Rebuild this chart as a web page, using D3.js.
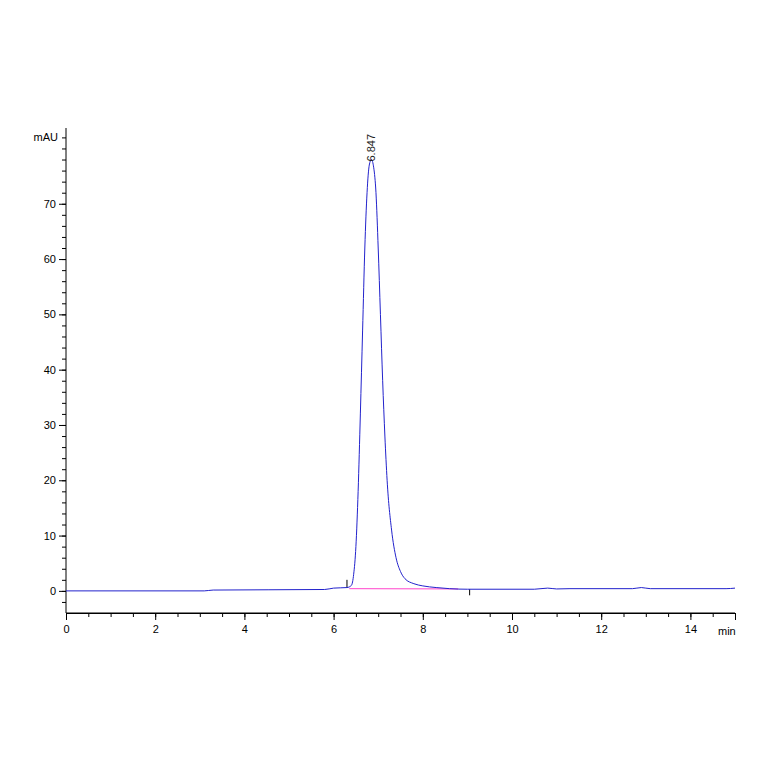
<!DOCTYPE html>
<html><head><meta charset="utf-8">
<script src="https://cdn.jsdelivr.net/npm/d3@7"></script>
<style>body{margin:0;background:#fff}text{font-family:Arial,"Liberation Sans",sans-serif}</style>
</head><body>
<svg id="c" width="764" height="764"></svg>
<script>
// chromatogram trace: [min, mAU]
var times = [0,3.1,3.3,5.8,6.0,6.3,6.4,6.45,6.5,6.55,6.6,6.65,6.7,6.75,6.8,6.847,6.9,6.95,7.0,7.05,7.1,7.15,7.2,7.3,7.4,7.5,7.6,7.8,8.0,8.3,8.6,9.0,10.5,10.8,11.0,11.3,12.7,12.9,13.1,14.8,15];
var signal = [0,0,0.15,0.25,0.5,0.6,1,3,8,18,32,47,62,72,77,78,76.5,72,62,50,38,28,20,11,6,3.5,2.2,1.3,0.9,0.6,0.4,0.3,0.3,0.5,0.35,0.4,0.4,0.6,0.4,0.4,0.5];
var baseline = [[6.35,0.4],[8.8,0.35]];
var xTicks = [0,2,4,6,8,10,12,14];
var yTicks = [0,10,20,30,40,50,60,70];
var peak = {t:6.847, h:78, label:"6.847"};

var svg = d3.select('#c');
var x = d3.scaleLinear().domain([0,15]).range([66,735]);
var y = d3.scaleLinear().domain([-4,83.7]).range([613,128]);

// axes
svg.append('g').attr('transform','translate(0,613)')
  .call(d3.axisBottom(x).tickValues(d3.range(0,15.01,0.5)).tickSize(4).tickFormat(''))
  .call(g=>g.select('.domain').remove());
svg.append('g').attr('transform','translate(0,613)')
  .call(d3.axisBottom(x).tickValues(xTicks).tickSize(7).tickFormat(d3.format('d')))
  .call(g=>g.selectAll('text').attr('font-size',11).attr('dy','0.9em'));
svg.append('line').attr('x1',66).attr('x2',735).attr('y1',613).attr('y2',613).attr('stroke','#000');
svg.append('text').attr('x',718).attr('y',635).attr('font-size',11).text('min');

svg.append('g').attr('transform','translate(66,0)')
  .call(d3.axisLeft(y).tickValues(d3.range(-2,83,2)).tickSize(4).tickFormat(''))
  .call(g=>g.select('.domain').remove());
svg.append('g').attr('transform','translate(66,0)')
  .call(d3.axisLeft(y).tickValues(yTicks).tickSize(7).tickFormat(d3.format('d')))
  .call(g=>g.selectAll('text').attr('font-size',11))
  .call(g=>g.select('.domain').remove());
svg.append('line').attr('x1',66).attr('x2',66).attr('y1',128).attr('y2',613).attr('stroke','#000');
svg.append('text').attr('x',58).attr('y',141).attr('text-anchor','end').attr('font-size',11).text('mAU');

// baseline
svg.append('path').datum(baseline).attr('fill','none').attr('stroke','#ff44cc').attr('stroke-width',1)
  .attr('d',d3.line().x(d=>x(d[0])).y(d=>y(d[1])));
// integration marks
svg.append('line').attr('x1',x(6.3)).attr('x2',x(6.3)).attr('y1',y(0.6)).attr('y2',y(2)).attr('stroke','#000');
svg.append('line').attr('x1',x(9.05)).attr('x2',x(9.05)).attr('y1',y(0.3)).attr('y2',y(-0.8)).attr('stroke','#000');

// trace
var pts = times.map((t,i)=>[t,signal[i]]);
svg.append('path').datum(pts).attr('fill','none').attr('stroke','#2222cc').attr('stroke-width',1)
  .attr('d',d3.line().curve(d3.curveMonotoneX).x(d=>x(d[0])).y(d=>y(d[1])));

// peak label
svg.append('text').attr('transform','translate('+(x(peak.t)+4)+','+(y(peak.h)+2)+') rotate(-90)')
  .attr('font-size',11).attr('fill','#222').text(peak.label);
</script>
</body></html>
